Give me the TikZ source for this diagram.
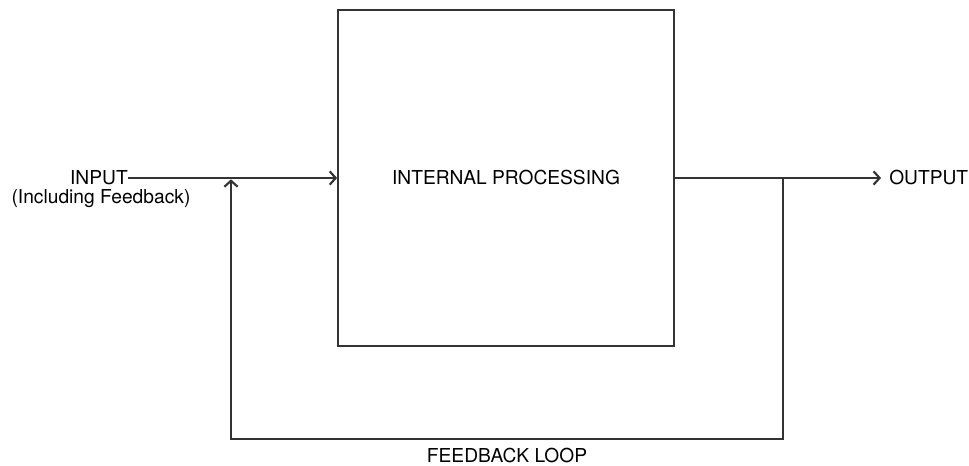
\documentclass[tikz,border=0pt]{standalone}
\usepackage{fontspec}
\setmainfont{TeX Gyre Heros}
\usetikzlibrary{arrows.meta}

\begin{document}
\begin{tikzpicture}[x=0.75pt,y=-0.75pt,
  flow/.style={draw=black!80,line width=1.3pt},
  tip/.style={-{Straight Barb[length=4.5pt,width=10pt,line width=1.6pt]}},
  procbox/.style={draw=black!80,line width=1.3pt,minimum width=252pt,minimum height=252pt,inner sep=0pt},
  lbl/.style={inner sep=0pt,font=\fontsize{14.4}{17}\selectfont}]
\useasboundingbox (0,0) rectangle (969,466);
% the block and its labels
\node[procbox,lbl] (proc) at (506,178) {INTERNAL PROCESSING};
\node[lbl,anchor=east] (input) at (128,178) {INPUT};
\node[lbl,anchor=base] (inputnote) at (101,203.5) {(Including Feedback)};
\node[lbl,anchor=west,inner xsep=6pt] (output) at (881,178) {OUTPUT};
% branch and merge points of the loop
\coordinate (split) at (783,178);
\coordinate (loopR) at (783,439);
\coordinate (loopL) at (231,439);
\coordinate (merge) at (231,178);
\draw[flow,tip] (input.east) -- (proc.west);
\draw[flow,tip] (proc.east) -- (output.west);
\draw[flow,tip] (split) -- (loopR)
  -- node[lbl,below,inner sep=6pt] (looplabel) {FEEDBACK LOOP} (loopL)
  -- ([yshift=-1pt]merge);
\end{tikzpicture}
\end{document}
